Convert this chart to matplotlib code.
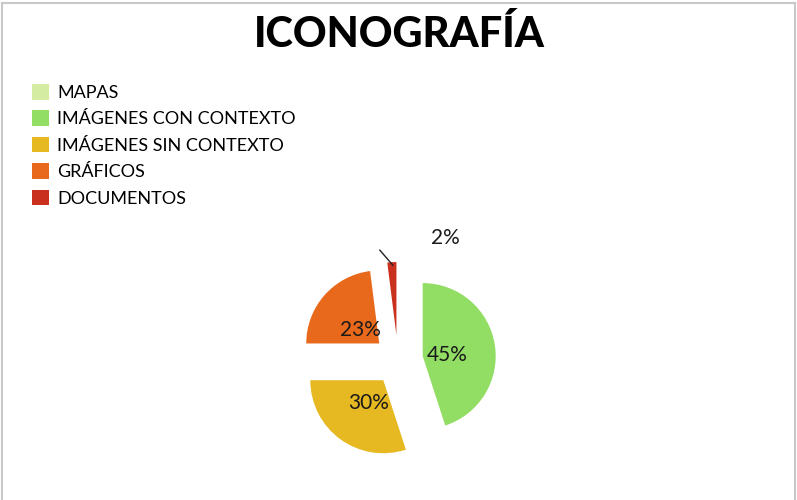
import matplotlib
matplotlib.use("Agg")
import matplotlib.pyplot as plt
from matplotlib.lines import Line2D
import numpy as np

categories = ["MAPAS", "IMÁGENES CON CONTEXTO", "IMÁGENES SIN CONTEXTO", "GRÁFICOS", "DOCUMENTOS"]
values = [0, 45, 30, 23, 2]
colors = ["#d3eca2", "#92dd63", "#e6b822", "#e8691b", "#c9301d"]
title = "ICONOGRAFÍA"

plt.rcParams['font.family'] = ['Lato', 'DejaVu Sans']

W, H = 797, 500
fig = plt.figure(figsize=(W / 100, H / 100), dpi=100)
ax = fig.add_axes([0, 0, 1, 1])

R = 73
cx, cy = 398, H - 360
explode = [25] * len(values)

def fmt(p):
    return f"{p:.0f}%" if p > 0.5 else ""

wedges, texts, autotexts = ax.pie(values, colors=colors, startangle=90, counterclock=False,
                                  explode=explode, radius=R, center=(cx, cy), autopct=fmt,
                                  pctdistance=0.34, frame=True,
                                  textprops=dict(fontsize=15, color="#1a1a1a"))
ax.set_xlim(0, W)
ax.set_ylim(0, H)
ax.set_aspect('equal')
ax.axis('off')

for t in autotexts[:-1]:
    x, y = t.get_position()
    t.set_position((x, y - 3))

# small slice label placed outside with a leader line
w = wedges[-1]
ang = np.deg2rad((w.theta1 + w.theta2) / 2)
ox, oy = w.center
tip = (ox + R * np.cos(ang), oy + R * np.sin(ang))
autotexts[-1].set_position((tip[0] + 54, tip[1] + 24))
ax.plot([tip[0] + 1, tip[0] - 12], [tip[1] - 3, tip[1] + 12], color="#222222", lw=1)

fig.text(399 / W, 1 - 34 / H, title, ha='center', va='center', fontsize=30, fontweight='black')

leg = ax.legend(wedges, categories, loc='upper left', bbox_to_anchor=(32 / W, 1 - 84 / H),
                frameon=False, fontsize=13, handlelength=0.95, handleheight=0.95,
                handletextpad=0.45, labelspacing=0.52, borderaxespad=0, borderpad=0)

# chart border (top, left, right)
for xs, ys in [([2 / W, 795 / W], [1 - 3 / H, 1 - 3 / H]),
               ([2 / W, 2 / W], [0, 1 - 3 / H]),
               ([795 / W, 795 / W], [0, 1 - 3 / H])]:
    fig.add_artist(Line2D(xs, ys, color="#c8c8c8", lw=1.5))

fig.savefig("out.png", dpi=100)
